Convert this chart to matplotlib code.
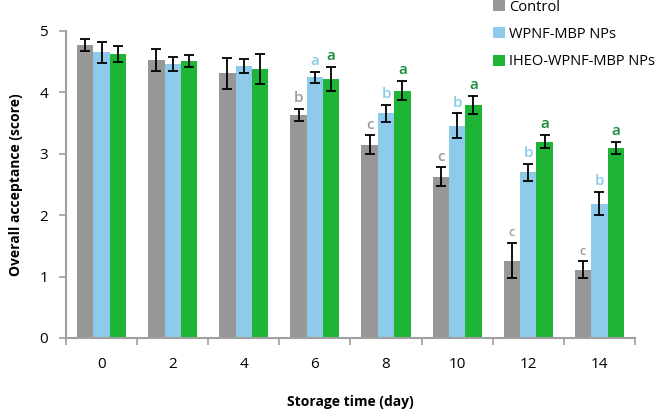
import numpy as np
import matplotlib.pyplot as plt

plt.rcParams['font.family'] = ['Open Sans', 'DejaVu Sans']

days = ['0', '2', '4', '6', '8', '10', '12', '14']
series = ['Control', 'WPNF-MBP NPs', 'IHEO-WPNF-MBP NPs']

control = [4.77, 4.53, 4.31, 3.63, 3.15, 2.63, 1.26, 1.11]
control_err = [0.10, 0.18, 0.25, 0.10, 0.15, 0.15, 0.29, 0.14]
wpnf = [4.65, 4.46, 4.43, 4.25, 3.66, 3.46, 2.70, 2.19]
wpnf_err = [0.17, 0.11, 0.12, 0.09, 0.14, 0.20, 0.14, 0.19]
iheo = [4.63, 4.51, 4.38, 4.22, 4.03, 3.79, 3.20, 3.09]
iheo_err = [0.13, 0.10, 0.24, 0.20, 0.16, 0.15, 0.11, 0.10]

control_letters = ['', '', '', 'b', 'c', 'c', 'c', 'c']
wpnf_letters = ['', '', '', 'a', 'b', 'b', 'b', 'b']
iheo_letters = ['', '', '', 'a', 'a', 'a', 'a', 'a']

colors = ['#979797', '#8ecae9', '#1eb436']
letter_colors = ['#9a9a9a', '#8ecae9', '#1a8a3c']

fig = plt.figure(figsize=(6.69, 4.13), dpi=100)
ax = fig.add_axes([0.0987, 0.1816, 0.8503, 0.7434])

x = np.arange(len(days))
w = 0.23
data = [(control, control_err, control_letters),
        (wpnf, wpnf_err, wpnf_letters),
        (iheo, iheo_err, iheo_letters)]

for k, (vals, errs, letters) in enumerate(data):
    pos = x + (k - 1) * w
    ax.bar(pos, vals, w, color=colors[k], label=series[k], zorder=2)
    ax.errorbar(pos, vals, yerr=errs, fmt='none', ecolor='black',
                elinewidth=1.3, capsize=3.5, capthick=1.3, zorder=3)
    for i, lt in enumerate(letters):
        if lt:
            fs = 9 if (k == 0 and i >= 6) else 11
            ax.text(pos[i], vals[i] + errs[i] + 0.06, lt, ha='center', va='bottom',
                    color=letter_colors[k], fontsize=fs, fontweight='semibold')

ax.set_xlim(-0.5, len(days) - 0.5)
ax.set_ylim(0, 5)
ax.set_yticks([0, 1, 2, 3, 4, 5])
ax.set_xticks(x)
ax.set_xticklabels(days)
ax.set_xticks(np.arange(-0.5, len(days)), minor=True)
ax.tick_params(axis='x', which='major', length=0, pad=14, labelsize=11)
ax.tick_params(axis='x', which='minor', length=5, color='#a0a0a0', width=1.2)
ax.tick_params(axis='y', length=5, color='#a0a0a0', width=1.2, labelsize=11, pad=8)

for s in ['top', 'right']:
    ax.spines[s].set_visible(False)
for s in ['left', 'bottom']:
    ax.spines[s].set_color('#a0a0a0')
    ax.spines[s].set_linewidth(1.5)

ax.set_ylabel('Overall acceptance (score)', fontsize=10, fontweight='bold', labelpad=12)
ax.set_xlabel('Storage time (day)', fontsize=10, fontweight='bold', labelpad=16)

ax.legend(loc='upper left', bbox_to_anchor=(0.728, 1.145), frameon=False,
          fontsize=10.5, handlelength=0.8, handleheight=0.8, handletextpad=0.3,
          labelspacing=0.85)

fig.savefig('out.png', dpi=100)
